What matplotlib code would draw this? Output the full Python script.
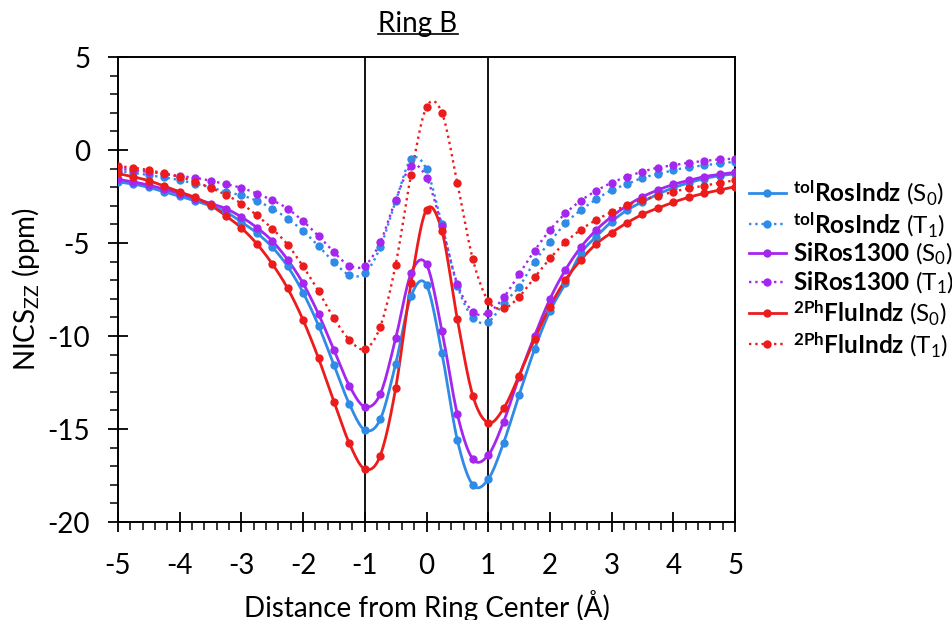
import numpy as np
import matplotlib
matplotlib.use("Agg")
import matplotlib.pyplot as plt
from matplotlib.ticker import MultipleLocator
from matplotlib.lines import Line2D

plt.rcParams["font.family"] = ["Lato", "DejaVu Sans"]
plt.rcParams["mathtext.fontset"] = "custom"
plt.rcParams["mathtext.rm"] = "Lato"
plt.rcParams["mathtext.bf"] = "Lato:bold"
plt.rcParams["mathtext.it"] = "Lato:italic"
plt.rcParams["axes.unicode_minus"] = False

# Distance from ring center (Å)
dist = [-5.0, -4.75, -4.5, -4.25, -4.0, -3.75, -3.5, -3.25, -3.0, -2.75, -2.5,
        -2.25, -2.0, -1.75, -1.5, -1.25, -1.0, -0.75, -0.5, -0.25, 0.0,
        0.25, 0.5, 0.75, 1.0, 1.25, 1.5, 1.75, 2.0, 2.25, 2.5,
        2.75, 3.0, 3.25, 3.5, 3.75, 4.0, 4.25, 4.5, 4.75, 5.0]

# NICSzz values (ppm)
tol_s0 = [-1.71, -1.83, -2.01, -2.25, -2.48, -2.73, -3.00, -3.33, -3.87, -4.46, -5.22,
          -6.26, -7.67, -9.44, -11.56, -13.66, -15.05, -14.48, -11.50, -7.85, -7.26,
          -10.93, -15.60, -18.00, -17.70, -15.73, -13.17, -10.72, -8.66, -7.17, -5.56,
          -4.66, -3.85, -3.23, -2.78, -2.37, -2.03, -1.76, -1.54, -1.38, -1.28]
tol_t1 = [-1.12, -1.22, -1.35, -1.47, -1.62, -1.80, -2.01, -2.25, -2.43, -2.73, -3.15,
          -3.69, -4.35, -5.16, -6.03, -6.71, -6.62, -5.23, -2.75, -0.50, -1.04,
          -4.00, -7.30, -9.01, -9.23, -8.24, -7.35, -6.00, -4.93, -3.94, -3.23,
          -2.65, -2.15, -1.83, -1.49, -1.29, -1.08, -0.93, -0.82, -0.72, -0.63]
si_s0 = [-1.58, -1.71, -1.89, -2.10, -2.34, -2.61, -2.88, -3.15, -3.60, -4.17, -4.89,
         -5.90, -7.17, -8.82, -10.75, -12.67, -13.80, -13.12, -10.13, -6.63, -6.15,
         -9.71, -14.21, -16.61, -16.40, -14.60, -12.19, -10.00, -8.01, -6.45, -5.23,
         -4.30, -3.58, -2.99, -2.51, -2.15, -1.85, -1.63, -1.43, -1.31, -1.20]
si_t1 = [-0.99, -1.08, -1.17, -1.29, -1.40, -1.49, -1.65, -1.83, -2.03, -2.34, -2.70,
         -3.15, -3.83, -4.62, -5.49, -6.21, -6.21, -4.96, -2.69, -0.86, -1.49,
         -4.10, -7.20, -8.69, -8.75, -7.92, -6.68, -5.41, -4.30, -3.41, -2.72,
         -2.19, -1.76, -1.43, -1.16, -0.95, -0.82, -0.68, -0.59, -0.50, -0.47]
flu_s0 = [-1.26, -1.44, -1.65, -1.94, -2.25, -2.55, -2.97, -3.54, -4.19, -5.04, -6.12,
          -7.44, -9.14, -11.20, -13.53, -15.77, -17.15, -16.43, -12.81, -7.13, -3.20,
          -4.36, -9.10, -13.20, -14.66, -13.89, -12.13, -10.18, -8.42, -6.99, -5.91,
          -5.05, -4.44, -3.91, -3.46, -3.12, -2.81, -2.54, -2.33, -2.15, -1.97]
flu_t1 = [-0.86, -0.95, -1.08, -1.26, -1.44, -1.71, -2.03, -2.41, -2.88, -3.51, -4.23,
          -5.09, -6.26, -7.59, -9.05, -10.20, -10.70, -9.50, -6.16, -1.32, 2.31,
          2.00, -1.79, -5.86, -8.12, -8.51, -7.89, -6.85, -5.83, -4.96, -4.28,
          -3.76, -3.33, -2.97, -2.69, -2.46, -2.24, -2.06, -1.92, -1.76, -1.63]

labels = [r"$^{\mathbf{tol}}\mathbf{RosIndz}$ (S$_0$)",
          r"$^{\mathbf{tol}}\mathbf{RosIndz}$ (T$_1$)",
          r"$\mathbf{SiRos1300}$ (S$_0$)",
          r"$\mathbf{SiRos1300}$ (T$_1$)",
          r"$^{\mathbf{2Ph}}\mathbf{FluIndz}$ (S$_0$)",
          r"$^{\mathbf{2Ph}}\mathbf{FluIndz}$ (T$_1$)"]

BLUE = "#2f8be6"
PURPLE = "#a526ee"
RED = "#ec1c1c"


def smooth(x, y, n=12):
    # Catmull-Rom curve through the points (like Excel's smoothed line)
    x = np.asarray(x, float)
    y = np.asarray(y, float)
    px = np.concatenate([[2 * x[0] - x[1]], x, [2 * x[-1] - x[-2]]])
    py = np.concatenate([[2 * y[0] - y[1]], y, [2 * y[-1] - y[-2]]])
    t = np.linspace(0, 1, n, endpoint=False)[:, None]

    def cr(p):
        p0, p1, p2, p3 = p[:-3], p[1:-2], p[2:-1], p[3:]
        v = 0.5 * (2 * p1 + (p2 - p0) * t + (2 * p0 - 5 * p1 + 4 * p2 - p3) * t ** 2
                   + (3 * p1 - p0 - 3 * p2 + p3) * t ** 3)
        return np.append(v.T.ravel(), p[-2])

    return cr(px), cr(py)


fig = plt.figure(figsize=(9.53, 6.2), dpi=100)
ax = fig.add_axes([0.1238, 0.158, 0.6475, 0.750])

series = [(tol_s0, BLUE, "-"), (tol_t1, BLUE, ":"),
          (si_s0, PURPLE, "-"), (si_t1, PURPLE, ":"),
          (flu_s0, RED, "-"), (flu_t1, RED, ":")]

handles = []
for (vals, col, ls), lab in zip(series, labels):
    sx, sy = smooth(dist, vals)
    lw = 2.0 if ls == "-" else 1.7
    ax.plot(sx, sy, color=col, lw=lw, ls=ls, zorder=3)
    ax.plot(dist, vals, "o", color=col, ms=6, mec="none", zorder=4)
    handles.append(Line2D([], [], color=col, lw=lw, ls=ls, marker="o", ms=6,
                          mec="none", label=lab))

ax.axvline(-1, color="black", lw=1.3, zorder=2)
ax.axvline(1, color="black", lw=1.3, zorder=2)

ax.set_xlim(-5, 5)
ax.set_ylim(-20, 5)
ax.xaxis.set_major_locator(MultipleLocator(1))
ax.xaxis.set_minor_locator(MultipleLocator(0.2))
ax.yaxis.set_major_locator(MultipleLocator(5))
ax.yaxis.set_minor_locator(MultipleLocator(1))

for s in ax.spines.values():
    s.set_linewidth(1.4)
ax.tick_params(which="major", direction="inout", length=14, width=1.3,
               labelsize=20, pad=13)
ax.tick_params(which="minor", direction="out", length=6, width=1.1)
ax.tick_params(axis="x", which="major", pad=15)

ax.set_xlabel("Distance from Ring Center (Å)", fontsize=20, labelpad=8)
ax.set_ylabel(r"NICS$_{\mathrm{ZZ}}$ (ppm)", fontsize=20, labelpad=4)

leg = fig.legend(handles=handles, loc="upper left", bbox_to_anchor=(0.776, 0.728),
                 frameon=False, fontsize=17.5, handlelength=1.5, handletextpad=0.3,
                 labelspacing=0.1, borderaxespad=0)

title = fig.text(0.4386, 0.962, "Ring B", ha="center", va="center", fontsize=20)

# underline the title
fig.canvas.draw()
bb = title.get_window_extent().transformed(fig.transFigure.inverted())
fig.add_artist(Line2D([bb.x0, bb.x1], [bb.y0 + 0.004, bb.y0 + 0.004],
                      transform=fig.transFigure, color="black", lw=1.2))

fig.savefig("out.png", dpi=100)
